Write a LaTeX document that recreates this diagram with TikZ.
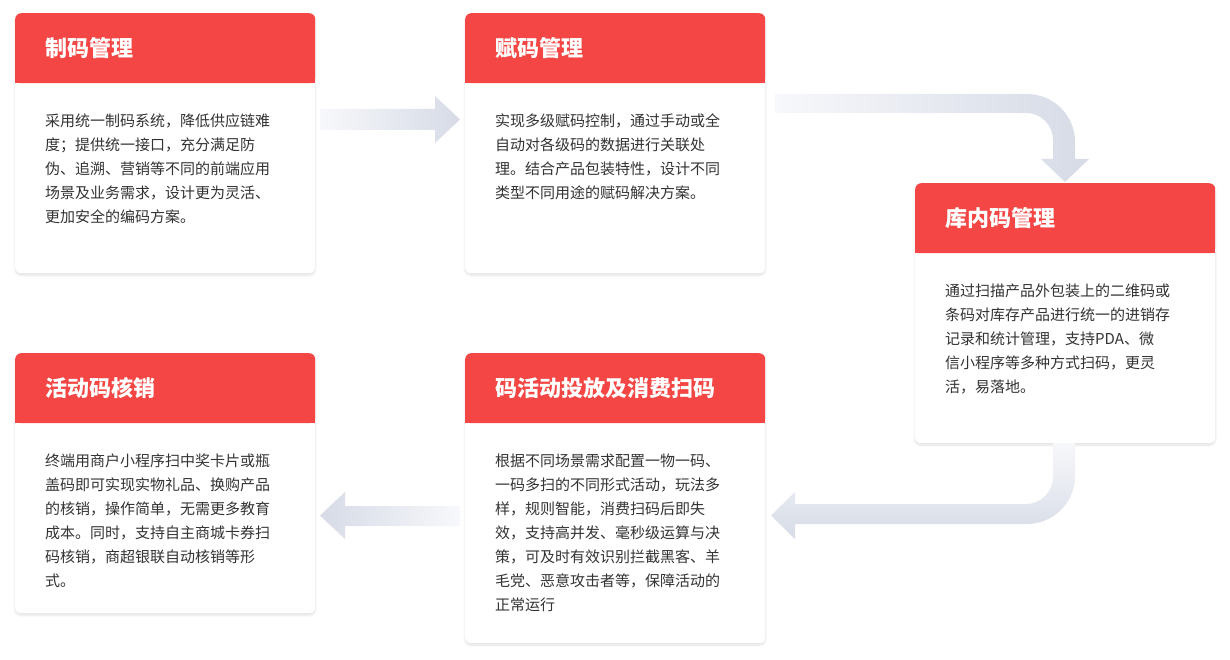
\documentclass[tikz,border=0pt]{standalone}
\usepackage{fontspec}
\setmainfont{Noto Sans CJK SC}
\usetikzlibrary{positioning,shadows.blur}
\XeTeXlinebreaklocale "zh"
\definecolor{hdred}{HTML}{F44745}
\definecolor{txt}{HTML}{333333}
\definecolor{arw}{HTML}{D6DBE6}
\definecolor{arwl}{HTML}{F7F8FB}

\begin{document}
\begin{tikzpicture}[
x=1pt, y=-1pt,
card/.style = {fill=white, rounded corners=6pt, minimum width=300pt, inner sep=0pt,
  blur shadow={shadow blur steps=8, shadow xshift=0pt, shadow yshift=-2pt, shadow opacity=12}},
head/.style = {fill=hdred, text=white, rounded corners=6pt, minimum width=300pt, minimum height=70pt,
  text width=240pt, inner xsep=30pt, font=\fontsize{22}{26}\selectfont\bfseries, align=left},
body/.style = {text=txt, anchor=north west, inner sep=0pt, align=left,
  font=\fontsize{15}{24}\selectfont}
]
\useasboundingbox (0,0) rectangle (1230,660);

% cards
\node [card, minimum height=260pt, anchor=north west] (c1) at (15,13) {};
\node [card, minimum height=260pt, anchor=north west] (c2) at (465,13) {};
\node [card, minimum height=260pt, anchor=north west] (c3) at (915,183) {};
\node [card, minimum height=260pt, anchor=north west] (c4) at (15,353) {};
\node [card, minimum height=290pt, anchor=north west] (c5) at (465,353) {};

% headers
\foreach \c/\t in {c1/制码管理, c2/赋码管理, c3/库内码管理, c4/活动码核销, c5/码活动投放及消费扫码} {
  \node [head, anchor=north] (h\c) at (\c.north) {\t};
  \fill [hdred] ([yshift=10pt]h\c.south west) rectangle (h\c.south east);
}

% texts
\node [body] (t1) at ([xshift=30pt,yshift=-30pt]hc1.south west)
  {采用统一制码系统，降低供应链难\\度；提供统一接口，充分满足防\\伪、追溯、营销等不同的前端应用\\场景及业务需求，设计更为灵活、\\更加安全的编码方案。};
\node [body] (t2) at ([xshift=30pt,yshift=-30pt]hc2.south west)
  {实现多级赋码控制，通过手动或全\\自动对各级码的数据进行关联处\\理。结合产品包装特性，设计不同\\类型不同用途的赋码解决方案。};
\node [body] (t3) at ([xshift=30pt,yshift=-30pt]hc3.south west)
  {通过扫描产品外包装上的二维码或\\条码对库存产品进行统一的进销存\\记录和统计管理，支持PDA、微\\信小程序等多种方式扫码，更灵\\活，易落地。};
\node [body] (t4) at ([xshift=30pt,yshift=-30pt]hc4.south west)
  {终端用商户小程序扫中奖卡片或瓶\\盖码即可实现实物礼品、换购产品\\的核销，操作简单，无需更多教育\\成本。同时，支持自主商城卡券扫\\码核销，商超银联自动核销等形\\式。};
\node [body] (t5) at ([xshift=30pt,yshift=-30pt]hc5.south west)
  {根据不同场景需求配置一物一码、\\一码多扫的不同形式活动，玩法多\\样，规则智能，消费扫码后即失\\效，支持高并发、毫秒级运算与决\\策，可及时有效识别拦截黑客、羊\\毛党、恶意攻击者等，保障活动的\\正常运行};

% arrows
\shade [left color=arwl, right color=arw]
  (320,109) -- (435,109) -- (435,96) -- (460,119.5) -- (435,143) -- (435,130) -- (320,130) -- cycle;
\shade [left color=arwl, right color=arw]
  (775,94) [rounded corners=48pt] -- (1075,94) [sharp corners] -- (1075,159) -- (1089,159) -- (1065,182)
  -- (1041,159) -- (1053,159) [rounded corners=27pt] -- (1053,113) [sharp corners] -- (775,113) -- cycle;
\shade [top color=arwl, bottom color=arw]
  (1053,443) -- (1075,443) [rounded corners=48pt] -- (1075,524) [sharp corners] -- (795,524) -- (795,539)
  -- (771,515.5) -- (795,492) -- (795,504) [rounded corners=27pt] -- (1053,504) [sharp corners] -- cycle;
\shade [left color=arw, right color=arwl]
  (460,506) -- (345,506) -- (345,492) -- (320,515.5) -- (345,539) -- (345,526) -- (460,526) -- cycle;

\end{tikzpicture}
\end{document}
